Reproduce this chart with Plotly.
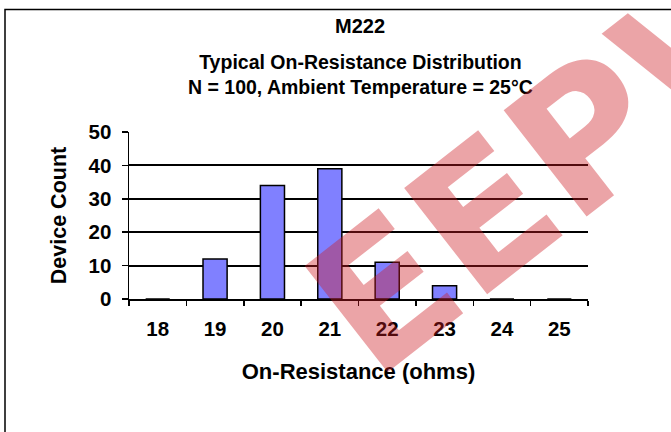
import plotly.graph_objects as go

categories = ["18", "19", "20", "21", "22", "23", "24", "25"]
device_count = [0, 12, 34, 39, 11, 4, 0, 0]
y_ticks = [0, 10, 20, 30, 40, 50]

W, H = 671, 432
L, R, T, B = 129, 83, 132, 133
pw, ph = W - L - R, H - T - B

def px(x):
    return (x - L) / pw

def py(y):
    return (H - B - y) / ph

FONT = "Liberation Sans"

fig = go.Figure()
fig.add_trace(go.Bar(
    x=categories, y=device_count,
    marker=dict(color="#8080FF", line=dict(color="black", width=1.5)),
    width=0.42,
))

fig.update_layout(
    width=W, height=H,
    margin=dict(l=L, r=R, t=T, b=B),
    paper_bgcolor="white", plot_bgcolor="white",
    showlegend=False,
    font=dict(family=FONT, color="black"),
    xaxis=dict(
        type="category", range=[-0.5, 7.5],
        showgrid=False, showline=True, linecolor="black", linewidth=1.5,
        ticks="outside", tickson="boundaries", ticklen=5, tickwidth=1.5, tickcolor="black",
        tickfont=dict(family=FONT, size=20.5, weight="bold"),
        ticklabelstandoff=11,
        title=dict(text="On-Resistance (ohms)", font=dict(family=FONT, size=22, weight="bold"), standoff=24),
    ),
    yaxis=dict(
        range=[0, 50], tickvals=y_ticks,
        showgrid=True, gridcolor="black", gridwidth=2,
        showline=True, linecolor="black", linewidth=1.5,
        ticks="outside", ticklen=6, tickwidth=1.5, tickcolor="black",
        tickfont=dict(family=FONT, size=20.5, weight="bold"),
        ticklabelstandoff=6,
        zeroline=False,
        title=dict(text="Device Count", font=dict(family=FONT, size=21.5, weight="bold"), standoff=16),
    ),
    annotations=[
        dict(text="M222", x=px(360), y=py(26), xref="paper", yref="paper",
             showarrow=False, xanchor="center", yanchor="middle",
             font=dict(family=FONT, size=20, weight="bold")),
        dict(text="Typical On-Resistance Distribution<br>N = 100, Ambient Temperature = 25°C",
             x=px(360), y=py(74.5), xref="paper", yref="paper",
             showarrow=False, xanchor="center", yanchor="middle",
             font=dict(family=FONT, size=19.5, weight="bold")),
        dict(text="EEPW", x=px(568), y=py(150), xref="paper", yref="paper",
             showarrow=False, xanchor="center", yanchor="middle", textangle=-38,
             font=dict(family="DejaVu Sans", size=185, weight="bold", color="rgba(204,27,34,0.4)")),
    ],
    shapes=[
        dict(type="rect", xref="paper", yref="paper",
             x0=px(5), y0=py(9.5), x1=px(700), y1=py(460),
             line=dict(color="black", width=1.5), fillcolor="rgba(0,0,0,0)", layer="above"),
    ],
)

fig.write_html(
    "out.html",
    config={"displayModeBar": False, "staticPlot": True},
    post_script="document.body.style.margin='0';document.body.style.overflow='hidden';",
)
